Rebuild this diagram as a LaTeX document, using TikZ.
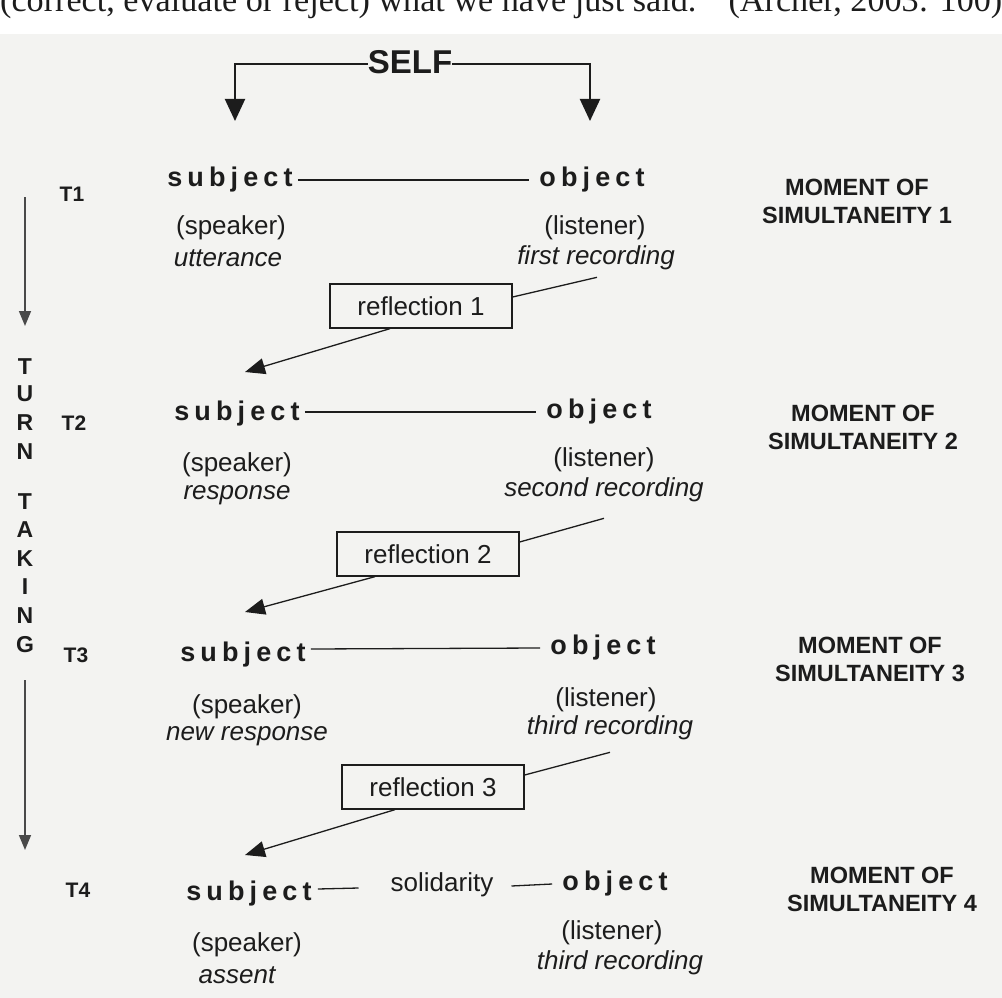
\documentclass[tikz,border=0pt]{standalone}
\usepackage{fontspec}
\usepackage{graphicx}
\setmainfont{Liberation Sans}
\newfontfamily\seriffont{Liberation Serif}
\newfontfamily\spacedfont[LetterSpace=19]{Liberation Sans}
\usetikzlibrary{arrows.meta}
\definecolor{paper}{RGB}{243,243,241}
\definecolor{ink}{RGB}{28,28,28}
\begin{document}
\begin{tikzpicture}[x=1pt,y=-1pt,
  every node/.style={inner sep=0pt, text=ink},
  word/.style={font=\fontsize{26}{28}\selectfont},
  wordit/.style={font=\fontsize{26}{28}\selectfont\itshape},
  role/.style={font=\fontsize{27}{28}\selectfont\spacedfont\bfseries},
  tlabel/.style={font=\fontsize{21}{22}\selectfont\bfseries},
  moment/.style={font=\fontsize{23.5}{28}\selectfont\bfseries, align=center},
  vlet/.style={font=\fontsize{23}{24}\selectfont\bfseries},
  refbox/.style={draw=ink, line width=1.3pt, minimum width=182pt, minimum height=44pt, font=\fontsize{26}{28}\selectfont},
  link/.style={draw=ink, line width=1.3pt},
  arr/.style={link, -{Triangle[length=20pt,width=16pt]}},
  bigarr/.style={draw=ink, line width=2pt, -{Triangle[length=22pt,width=20pt]}},
  sidearr/.style={draw=ink!80, line width=1.6pt, -{Triangle[length=15pt,width=12pt]}},
]
\useasboundingbox (0,0) rectangle (1002,998);
\fill[paper] (0,34) rectangle (1002,998);

% quotation cut at the top
\node[anchor=base west] (quote) at (0,12) {\resizebox{1002pt}{!}{\seriffont\fontsize{30}{32}\selectfont (correct, evaluate or reject) what we have just said.”\ \ (Archer, 2003: 100)}};

% SELF
\node[font=\fontsize{33}{34}\selectfont\bfseries] (self) at (410,62) {SELF};
\coordinate (selfL) at (235,121);
\coordinate (selfR) at (590,121);
\draw[bigarr] ([yshift=-2pt]self.west) -| (selfL);
\draw[bigarr] ([yshift=-2pt]self.east) -| (selfR);

% TURN TAKING axis
\coordinate (ax1) at (25,197);
\coordinate (ax2) at (25,326);
\coordinate (ax3) at (25,680);
\coordinate (ax4) at (25,850);
\draw[sidearr] (ax1) -- (ax2);
\draw[sidearr] (ax3) -- (ax4);
\foreach \l/\y [count=\i] in {T/367,U/394,R/423,N/452,T/502,A/530,K/559,I/587,N/616,G/645}
  \node[vlet] (v\i) at (25,\y) {\l};

% T labels
\node[tlabel] (t1) at (72,194) {T1};
\node[tlabel] (t2) at (74,423) {T2};
\node[tlabel] (t3) at (76,655) {T3};
\node[tlabel] (t4) at (78,890) {T4};

% Moment labels
\node[moment] (m1) at (857,201) {MOMENT OF\\SIMULTANEITY 1};
\node[moment] (m2) at (863,427) {MOMENT OF\\SIMULTANEITY 2};
\node[moment] (m3) at (870,659) {MOMENT OF\\SIMULTANEITY 3};
\node[moment] (m4) at (882,889) {MOMENT OF\\SIMULTANEITY 4};

% Row 1
\node[role] (s1) at (230,180) {subject};
\node[role] (o1) at (592,180) {object};
\draw[link] ([xshift=5pt]s1.east) -- ([xshift=-10pt]o1.west);
\node[word] (sp1) at (231,228) {(speaker)};
\node[wordit] (ut1) at (228,258) {utterance};
\node[word] (li1) at (595,228) {(listener)};
\node[wordit] (rc1) at (596,258) {first recording};
\node[refbox] (r1) at (421,306) {reflection 1};
\coordinate (a1) at (245,372);
\draw[link] ([yshift=9pt]r1.east) -- ([xshift=1pt,yshift=-7pt]rc1.south);
\draw[arr] ([xshift=-31pt]r1.south) -- (a1);

% Row 2
\node[role] (s2) at (237,414) {subject};
\node[role] (o2) at (599,412) {object};
\draw[link] ([xshift=5pt,yshift=2pt]s2.east) -- ([xshift=-10pt]o2.west);
\node[word] (sp2) at (237,465) {(speaker)};
\node[wordit] (rs2) at (237,495) {response};
\node[word] (li2) at (604,460) {(listener)};
\node[wordit] (rc2) at (604,490) {second recording};
\node[refbox] (r2) at (428,554) {reflection 2};
\coordinate (a2) at (245,612);
\draw[link] ([yshift=12pt]r2.east) -- ([yshift=-16pt]rc2.south);
\draw[arr] ([xshift=-53pt]r2.south) -- (a2);

% Row 3
\node[role] (s3) at (243,655) {subject};
\node[role] (o3) at (603,648) {object};
\draw[link] ([xshift=5pt,yshift=6pt]s3.east) -- ([xshift=-10pt]o3.west);
\node[word] (sp3) at (247,707) {(speaker)};
\node[wordit] (nr3) at (247,736) {new response};
\node[word] (li3) at (606,700) {(listener)};
\node[wordit] (rc3) at (610,728) {third recording};
\node[refbox] (r3) at (433,787) {reflection 3};
\coordinate (a3) at (245,855);
\draw[link] ([yshift=12pt]r3.east) -- ([yshift=-12pt]rc3.south);
\draw[arr] ([xshift=-38pt]r3.south) -- (a3);

% Row 4
\node[role] (s4) at (249,894) {subject};
\node[word] (sol) at (442,885) {solidarity};
\node[role] (o4) at (615,884) {object};
\draw[link] ([xshift=6pt,yshift=5pt]s4.east) -- ([xshift=-32pt,yshift=-3pt]sol.west);
\draw[link] ([xshift=18pt,yshift=-1pt]sol.east) -- ([xshift=-10pt]o4.west);
\node[word] (sp4) at (247,945) {(speaker)};
\node[wordit] (as4) at (237,975) {assent};
\node[word] (li4) at (612,933) {(listener)};
\node[wordit] (rc4) at (620,963) {third recording};
\end{tikzpicture}
\end{document}
